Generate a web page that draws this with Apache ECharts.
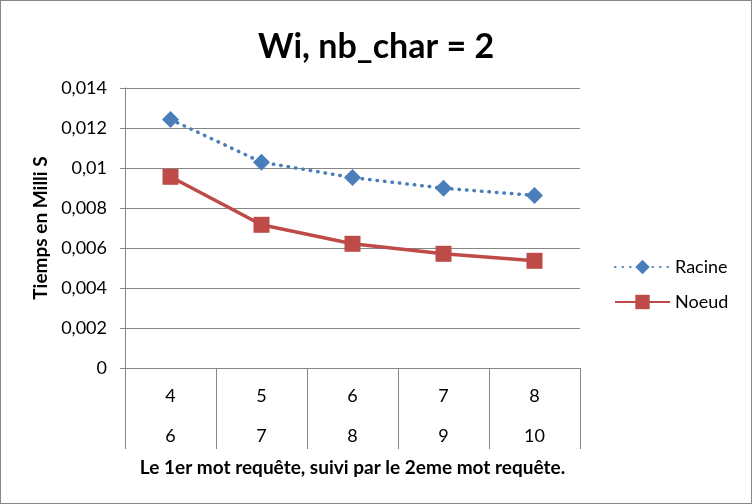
<!DOCTYPE html>
<html><head><meta charset="utf-8">
<script src="https://cdn.jsdelivr.net/npm/echarts@6/dist/echarts.min.js"></script>
<style>html,body{margin:0;padding:0;background:#fff}#c{width:750px;height:502px;border:1px solid #868686}</style>
</head><body><div id="c"></div>
<script>
var firstWord = ['4','5','6','7','8'];
var secondWord = ['6','7','8','9','10'];
var racine = [0.01243, 0.01029, 0.00952, 0.00899, 0.00863];
var noeud = [0.00956, 0.00716, 0.00621, 0.00571, 0.00536];
var yTicks = {min: 0, max: 0.014, interval: 0.002};
var titleText = 'Wi, nb_char = 2';
var yName = 'Tiemps en Milli S';
var xName = 'Le 1er mot requête, suivi par le 2eme mot requête.';

var cats = firstWord.map(function(a, i){ return a + '\n\n' + secondWord[i]; });
var font = 'Lato, "Open Sans", sans-serif';
var chart = echarts.init(document.getElementById('c'));
chart.setOption({
  animation: false,
  title: {text: titleText, left: 'center', top: 24, textStyle: {fontFamily: font, fontSize: 34, fontWeight: 'bold', color: '#000'}},
  grid: {left: 124, right: 171, top: 87, bottom: 135},
  legend: {orient: 'vertical', left: 608, top: 252, itemGap: 17, itemWidth: 55, itemHeight: 18,
    textStyle: {fontFamily: font, fontSize: 18, lineHeight: 18, color: '#000'},
    data: ['Racine', 'Noeud']},
  xAxis: {type: 'category', data: cats, boundaryGap: true,
    axisLine: {lineStyle: {color: '#868686', width: 1}},
    axisTick: {show: true, length: 81, lineStyle: {color: '#868686'}},
    axisLabel: {fontFamily: font, fontSize: 18, color: '#000', lineHeight: 20, margin: 18},
    name: xName, nameLocation: 'middle', nameGap: 90,
    nameTextStyle: {fontFamily: font, fontSize: 19, fontWeight: 'bold', color: '#000'}},
  yAxis: {type: 'value', min: yTicks.min, max: yTicks.max, interval: yTicks.interval,
    axisLine: {show: true, lineStyle: {color: '#868686'}},
    axisTick: {show: true, length: 5, lineStyle: {color: '#868686'}},
    splitLine: {lineStyle: {color: '#868686'}},
    axisLabel: {fontFamily: font, fontSize: 18, color: '#000', margin: 18,
      formatter: function(v){ return String(+v.toFixed(3)).replace('.', ','); }},
    name: yName, nameLocation: 'middle', nameGap: 68, nameRotate: 90,
    nameTextStyle: {fontFamily: font, fontSize: 19, fontWeight: 'bold', color: '#000'}},
  series: [
    {name: 'Racine', type: 'line', data: racine, symbol: 'diamond', symbolSize: 17,
      itemStyle: {color: '#4A7EBB'},
      lineStyle: {color: '#4A7EBB', width: 3.5, type: [0.5, 7], cap: 'round'}},
    {name: 'Noeud', type: 'line', data: noeud, symbol: 'rect', symbolSize: 16,
      itemStyle: {color: '#BE4B48'},
      lineStyle: {color: '#BE4B48', width: 3.5}}
  ]
});
</script></body></html>
